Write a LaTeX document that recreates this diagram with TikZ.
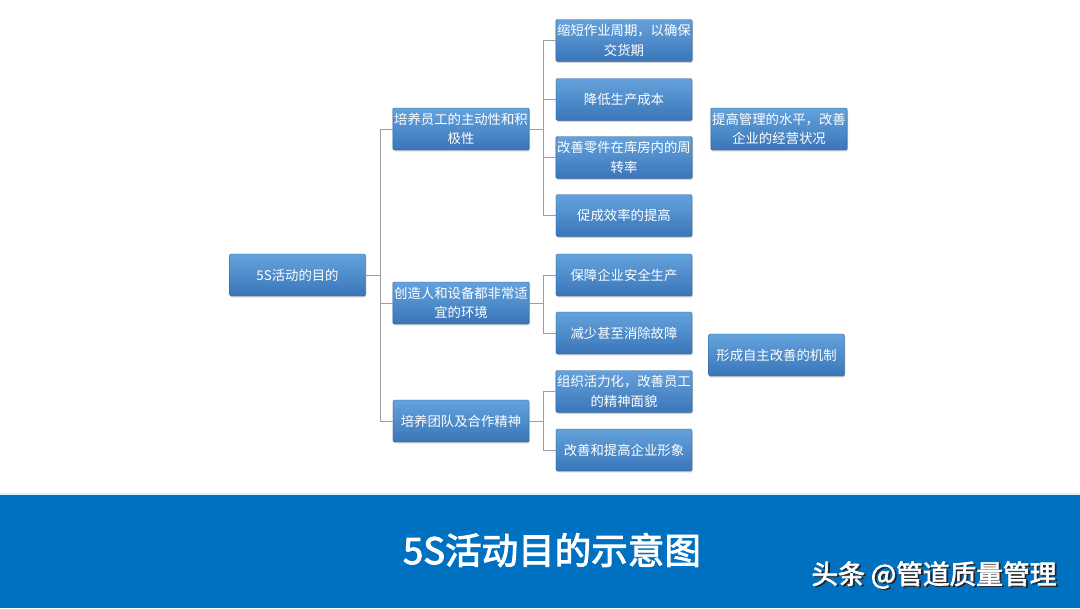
\documentclass[tikz,border=0pt]{standalone}
\usepackage{fontspec}
\setmainfont{Noto Sans CJK SC}
\newfontfamily\cjkb[AutoFakeBold=2.5]{Noto Sans CJK SC}
\usepackage{tikz}
\usetikzlibrary{shadows}

\definecolor{boxtop}{RGB}{100,162,220}
\definecolor{boxbot}{RGB}{58,118,184}
\definecolor{bannerblue}{RGB}{0,112,192}
\definecolor{linkgray}{RGB}{150,160,170}

\begin{document}
\begin{tikzpicture}[x=0.025cm,y=-0.025cm,
  goal/.style={rectangle,rounded corners=1pt,top color=boxtop,bottom color=boxbot,
    draw=boxbot!80!black,line width=0.3pt,text=white,minimum width=3.4cm,minimum height=1.05cm,
    inner sep=1pt,align=center,font=\fontsize{9.5}{14}\selectfont,
    drop shadow={opacity=0.35,shadow xshift=0.6pt,shadow yshift=-0.9pt}},
  link/.style={draw=linkgray,line width=0.7pt}]
\useasboundingbox (0,0) rectangle (1080,608);
\fill[white] (0,0) rectangle (1080,608);

% root and first level
\node[goal] (root) at (297.5,275) {5S活动的目的};
\node[goal] (staff) at (461,129) {培养员工的主动性和积\\极性};
\node[goal] (env) at (461,303) {创造人和设备都非常适\\宜的环境};
\node[goal] (team) at (461,421) {培养团队及合作精神};

% second level
\node[goal] (cycle) at (624,40.5) {缩短作业周期，以确保\\交货期};
\node[goal] (cost) at (624,99.5) {降低生产成本};
\node[goal] (turn) at (624,157.5) {改善零件在库房内的周\\转率};
\node[goal] (eff) at (624,215.5) {促成效率的提高};
\node[goal] (safe) at (624,275) {保障企业安全生产};
\node[goal] (fault) at (624,333) {减少甚至消除故障};
\node[goal] (vital) at (624,391.5) {组织活力化，改善员工\\的精神面貌};
\node[goal] (image) at (624,450) {改善和提高企业形象};

% right column
\node[goal] (manage) at (779,129) {提高管理的水平，改善\\企业的经营状况};
\node[goal] (self) at (776.5,355) {形成自主改善的机制};

% connectors
\coordinate (tr) at (380,275);
\coordinate (ts) at (543,129);
\coordinate (te) at (543,303);
\coordinate (tt) at (543,421);
\draw[link] (root.east) -- (tr);
\draw[link] (tr) |- (staff.west);
\draw[link] (tr) |- (env.west);
\draw[link] (tr) |- (team.west);
\draw[link] (staff.east) -- (ts);
\draw[link] (ts) |- (cycle.west);
\draw[link] (ts) |- (cost.west);
\draw[link] (ts) |- (turn.west);
\draw[link] (ts) |- (eff.west);
\draw[link] (env.east) -- (te);
\draw[link] (te) |- (safe.west);
\draw[link] (te) |- (fault.west);
\draw[link] (team.east) -- (tt);
\draw[link] (tt) |- (vital.west);
\draw[link] (tt) |- (image.west);

% banner
\fill[bannerblue] (0,494) rectangle (1080,608);
\draw[cyan!15,line width=0.8pt] (0,494) -- (1080,494);
\node[text=white,font=\cjkb\bfseries\fontsize{26}{30}\selectfont] (title) at (552,550) {5S活动目的示意图};
\node[text=black!85,font=\cjkb\bfseries\fontsize{19}{22}\selectfont] (markshade) at (935.8,576.2) {头条 @管道质量管理};
\node[text=white,font=\cjkb\bfseries\fontsize{19}{22}\selectfont] (mark) at (934,575) {头条 @管道质量管理};
\end{tikzpicture}
\end{document}
